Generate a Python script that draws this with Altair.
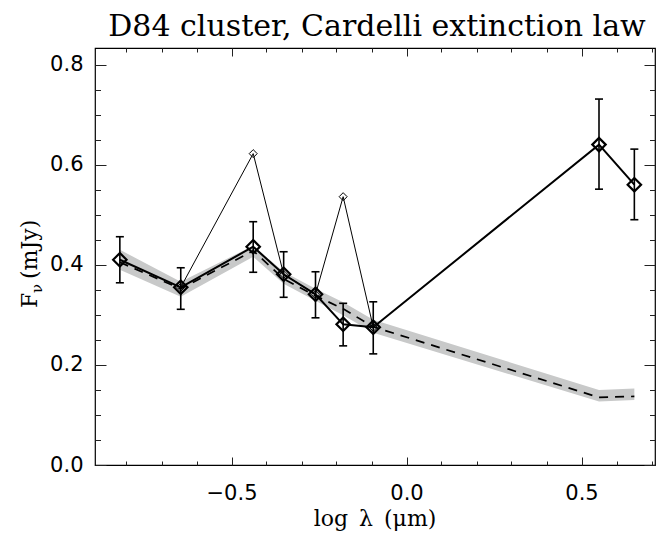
import altair as alt
import pandas as pd

# ---- data ----
log_lam = [-0.819, -0.645, -0.438, -0.351, -0.260, -0.181, -0.095, 0.550, 0.651]
flux = [0.410, 0.355, 0.436, 0.381, 0.341, 0.281, 0.275, 0.640, 0.560]
flux_lo = [0.364, 0.311, 0.385, 0.335, 0.294, 0.238, 0.222, 0.551, 0.490]
flux_hi = [0.456, 0.394, 0.486, 0.426, 0.386, 0.323, 0.326, 0.731, 0.631]

model = [0.405, 0.352, 0.428, 0.372, 0.338, 0.312, 0.276, 0.135, 0.137]
model_lo = [0.390, 0.336, 0.416, 0.362, 0.328, 0.299, 0.264, 0.127, 0.130]
model_hi = [0.430, 0.366, 0.438, 0.386, 0.352, 0.325, 0.290, 0.150, 0.153]

thin_lam = [-0.645, -0.438, -0.351, -0.260, -0.181, -0.095]
thin_flux = [0.355, 0.622, 0.381, 0.341, 0.536, 0.275]

x_major = [-0.5, 0.0, 0.5]
x_minor = [-0.8, -0.7, -0.6, -0.4, -0.3, -0.2, -0.1, 0.1, 0.2, 0.3, 0.4, 0.6, 0.7]
y_major = [0.0, 0.2, 0.4, 0.6, 0.8]
y_minor = [0.05, 0.1, 0.15, 0.25, 0.3, 0.35, 0.45, 0.5, 0.55, 0.65, 0.7, 0.75]

title_text = ["D84 cluster, Cardelli extinction law"]
x_title = ["log\u2002λ\u2002(μm)"]
y_title_main = ["F"]
y_title_sub = ["ν"]
y_title_unit = ["(mJy)"]

df = pd.DataFrame({"x": log_lam, "f": flux, "lo": flux_lo, "hi": flux_hi,
                   "m": model, "mlo": model_lo, "mhi": model_hi})
thin = pd.DataFrame({"x": thin_lam, "f": thin_flux})

W, H = 560, 417
SERIF = "DejaVu Serif"
SANS = "DejaVu Sans"
xs = alt.Scale(domain=[-0.89, 0.71], nice=False, zero=False)
ys = alt.Scale(domain=[0.0, 0.833], nice=False, zero=False)

x_main = alt.Axis(values=x_major, format=".1f", ticks=False, domain=False, grid=False,
                  labelFont=SANS, labelFontSize=21, labelPadding=17,
                  labelColor="black", title=None)
y_main = alt.Axis(values=y_major, format=".1f", ticks=False, domain=False, grid=False,
                  labelFont=SANS, labelFontSize=21, labelPadding=12,
                  labelColor="black", title=None)

band = alt.Chart(df).mark_area(color="#c8c9c9").encode(
    x=alt.X("x:Q", scale=xs, axis=x_main),
    y=alt.Y("mlo:Q", scale=ys, axis=y_main),
    y2="mhi:Q",
)
dashed = alt.Chart(df).mark_line(color="black", strokeWidth=1.7, strokeDash=[9, 7]).encode(
    x=alt.X("x:Q", scale=xs, axis=None), y=alt.Y("m:Q", scale=ys, axis=None))
thin_line = alt.Chart(thin).mark_line(color="black", strokeWidth=1).encode(
    x=alt.X("x:Q", scale=xs, axis=None), y=alt.Y("f:Q", scale=ys, axis=None))
thin_pts = alt.Chart(thin).mark_point(shape="diamond", size=64, filled=False, color="black",
                                      strokeWidth=1, opacity=1).encode(
    x=alt.X("x:Q", scale=xs, axis=None), y=alt.Y("f:Q", scale=ys, axis=None))
err = alt.Chart(df).mark_rule(color="black", strokeWidth=1.6).encode(
    x=alt.X("x:Q", scale=xs, axis=None), y=alt.Y("lo:Q", scale=ys, axis=None), y2="hi:Q")
cap_lo = alt.Chart(df).mark_tick(color="black", orient="horizontal", size=8, thickness=1.6, opacity=1).encode(
    x=alt.X("x:Q", scale=xs, axis=None), y=alt.Y("lo:Q", scale=ys, axis=None))
cap_hi = alt.Chart(df).mark_tick(color="black", orient="horizontal", size=8, thickness=1.6, opacity=1).encode(
    x=alt.X("x:Q", scale=xs, axis=None), y=alt.Y("hi:Q", scale=ys, axis=None))
thick = alt.Chart(df).mark_line(color="black", strokeWidth=2).encode(
    x=alt.X("x:Q", scale=xs, axis=None), y=alt.Y("f:Q", scale=ys, axis=None))
pts = alt.Chart(df).mark_point(shape="diamond", size=180, filled=False, color="black",
                               strokeWidth=2.2, opacity=1).encode(
    x=alt.X("x:Q", scale=xs, axis=None), y=alt.Y("f:Q", scale=ys, axis=None))


def tick_layer(xvals, xsize, xorient, yvals, ysize, yorient):
    xa = alt.Axis(values=xvals, orient=xorient, offset=-H, tickSize=xsize, labels=False,
                  domain=False, grid=False, title=None, tickColor="#222222", tickWidth=1)
    ya = alt.Axis(values=yvals, orient=yorient, offset=-W, tickSize=ysize, labels=False,
                  domain=False, grid=False, title=None, tickColor="#222222", tickWidth=1)
    return alt.Chart(df).mark_point(opacity=0).encode(
        x=alt.X("x:Q", scale=xs, axis=xa), y=alt.Y("f:Q", scale=ys, axis=ya))


t1 = tick_layer(x_major, 8, "top", y_major, 11, "right")
t2 = tick_layer(x_minor, 4, "top", y_minor, 5.5, "right")
t3 = tick_layer(x_major, 8, "bottom", y_major, 11, "left")
t4 = tick_layer(x_minor, 4, "bottom", y_minor, 5.5, "left")


def text_layer(txt, x, y, size, angle=0, align="center", font=SERIF):
    return alt.Chart(pd.DataFrame({"t": txt})).mark_text(
        font=font, fontSize=size, color="black", align=align, baseline="alphabetic",
        angle=angle).encode(text="t:N", x=alt.value(x), y=alt.value(y))


title_l = text_layer(title_text, 282, -12, 30)
xtitle_l = text_layer(x_title, 280, 478, 22)
ytitle_f = text_layer(y_title_main, -58, 260, 22, angle=270, align="left")
ytitle_nu = text_layer(y_title_sub, -53, 245, 15, angle=270, align="left")
ytitle_u = text_layer(y_title_unit, -58, 231, 22, angle=270, align="left")

chart = alt.layer(band, dashed, thin_line, thin_pts, err, cap_lo, cap_hi, thick, pts,
                  t1, t2, t3, t4, title_l, xtitle_l, ytitle_f, ytitle_nu, ytitle_u
                  ).resolve_axis(x="independent", y="independent").properties(
    width=W, height=H,
    autosize=alt.AutoSizeParams(type="none"),
    padding={"left": 87, "top": 40, "right": 1, "bottom": 70},
).configure_view(stroke="black", strokeWidth=1.2)

chart.save("out.html", embed_options={"renderer": "svg", "actions": False})
